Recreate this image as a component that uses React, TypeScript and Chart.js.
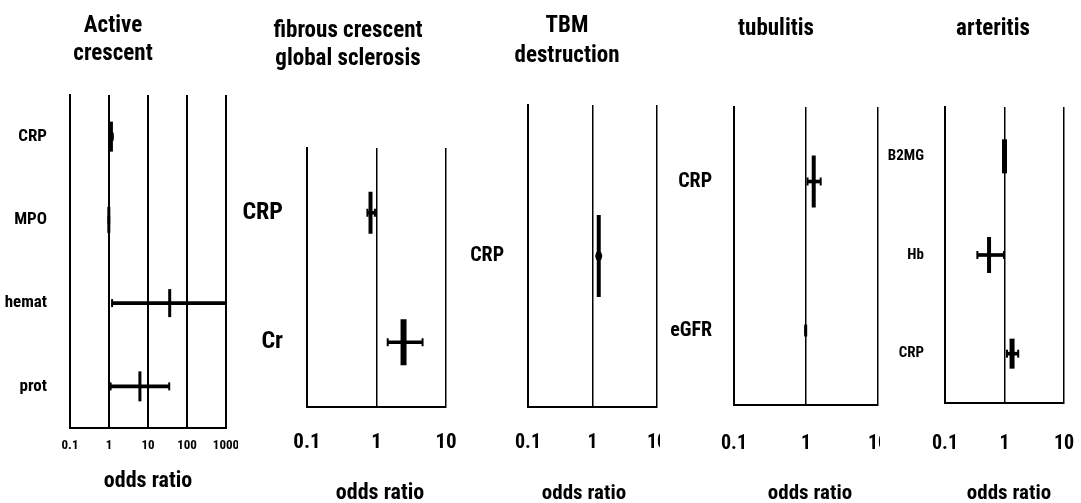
import React, { useEffect, useRef } from "react";
import { Chart, registerables } from "chart.js";
Chart.register(...registerables);

const FONT = "'Roboto Condensed', 'Open Sans Condensed', 'DejaVu Sans Condensed', sans-serif";
const H = 503;

// ---------------- data ----------------
const xAxisTitle = "odds ratio";

const activeTitle = ["Active", "crescent"];
const activeCategories = ["CRP", "MPO", "hemat", "prot"];
const activeOR = [1.12, 0.99, 36, 6.2];
const activeLow = [1.02, 0.97, 1.2, 1.1];
const activeHigh = [1.25, 1.01, 1000, 35];
const activeTicks = [0.1, 1, 10, 100, 1000];
const activeTickLabels = ["0.1", "1", "10", "100", "1000"];

const fibrousTitle = ["fibrous crescent", "global sclerosis"];
const fibrousCategories = ["CRP", "Cr"];
const fibrousOR = [0.82, 2.45];
const fibrousLow = [0.74, 1.45];
const fibrousHigh = [0.95, 4.6];

const tbmTitle = ["TBM", "destruction"];
const tbmCategories = ["CRP"];
const tbmOR = [1.25];
const tbmLow = [1.18];
const tbmHigh = [1.32];

const tubulitisTitle = ["tubulitis"];
const tubulitisCategories = ["CRP", "eGFR"];
const tubulitisOR = [1.28, 0.99];
const tubulitisLow = [1.05, 0.98];
const tubulitisHigh = [1.6, 1.0];

const arteritisTitle = ["arteritis"];
const arteritisCategories = ["B2MG", "Hb", "CRP"];
const arteritisOR = [1.0, 0.55, 1.34];
const arteritisLow = [0.99, 0.35, 1.1];
const arteritisHigh = [1.01, 0.98, 1.7];

const smallTicks = [0.1, 1, 10];
const smallTickLabels = ["0.1", "1", "10"];

// ---------------- layout / style ----------------
type Panel = {
  title: string[];
  categories: string[];
  or: number[];
  low: number[];
  high: number[];
  ticks: number[];
  tickLabels: string[];
  left: number;
  width: number;
  areaLeft: number;
  areaRight: number;
  areaTop: number;
  areaBottom: number;
  titleX: number;
  titleBaselines: number[];
  titleFont: number;
  catFont: number;
  catPad: number;
  tickFont: number;
  tickCenter: number;
  xTitleX: number;
  xTitleBaseline: number;
  xTitleFont: number;
  gridWidth: number;
  markHalf: number[];
  markWidth: number[];
  dotRadius: number[];
  ciWidth: number;
};

const PANELS: Panel[] = [
  {
    title: activeTitle, categories: activeCategories, or: activeOR, low: activeLow, high: activeHigh,
    ticks: activeTicks, tickLabels: activeTickLabels,
    left: 0, width: 238, areaLeft: 70, areaRight: 226, areaTop: 95, areaBottom: 428,
    titleX: 113, titleBaselines: [32, 60], titleFont: 23,
    catFont: 17, catPad: 15, tickFont: 13, tickCenter: 446,
    xTitleX: 148, xTitleBaseline: 487, xTitleFont: 22,
    gridWidth: 2, markHalf: [15, 13, 14, 15], markWidth: [4, 3, 3, 3], dotRadius: [2.5, 0, 0, 0], ciWidth: 3,
  },
  {
    title: fibrousTitle, categories: fibrousCategories, or: fibrousOR, low: fibrousLow, high: fibrousHigh,
    ticks: smallTicks, tickLabels: smallTickLabels,
    left: 238, width: 222, areaLeft: 307, areaRight: 446, areaTop: 148, areaBottom: 407,
    titleX: 348, titleBaselines: [37, 65], titleFont: 23,
    catFont: 24, catPad: 16, tickFont: 21, tickCenter: 443,
    xTitleX: 380, xTitleBaseline: 499, xTitleFont: 22,
    gridWidth: 1.5, markHalf: [21, 23], markWidth: [4, 6], dotRadius: [0, 0], ciWidth: 3,
  },
  {
    title: tbmTitle, categories: tbmCategories, or: tbmOR, low: tbmLow, high: tbmHigh,
    ticks: smallTicks, tickLabels: smallTickLabels,
    left: 460, width: 200, areaLeft: 528, areaRight: 657, areaTop: 105, areaBottom: 407,
    titleX: 567, titleBaselines: [32, 62], titleFont: 23,
    catFont: 20, catPad: 16, tickFont: 20, tickCenter: 443,
    xTitleX: 584, xTitleBaseline: 499, xTitleFont: 21,
    gridWidth: 1.5, markHalf: [41], markWidth: [4], dotRadius: [3.5], ciWidth: 3,
  },
  {
    title: tubulitisTitle, categories: tubulitisCategories, or: tubulitisOR, low: tubulitisLow, high: tubulitisHigh,
    ticks: smallTicks, tickLabels: smallTickLabels,
    left: 660, width: 220, areaLeft: 734, areaRight: 878, areaTop: 107, areaBottom: 405,
    titleX: 776, titleBaselines: [35], titleFont: 23,
    catFont: 20, catPad: 14, tickFont: 20, tickCenter: 444,
    xTitleX: 810, xTitleBaseline: 499, xTitleFont: 21,
    gridWidth: 1.5, markHalf: [26, 6], markWidth: [4, 3], dotRadius: [0, 0], ciWidth: 3,
  },
  {
    title: arteritisTitle, categories: arteritisCategories, or: arteritisOR, low: arteritisLow, high: arteritisHigh,
    ticks: smallTicks, tickLabels: smallTickLabels,
    left: 880, width: 201, areaLeft: 945, areaRight: 1064, areaTop: 107, areaBottom: 403,
    titleX: 993, titleBaselines: [35], titleFont: 23,
    catFont: 15, catPad: 13, tickFont: 20, tickCenter: 444,
    xTitleX: 1009, xTitleBaseline: 499, xTitleFont: 21,
    gridWidth: 1.5, markHalf: [17, 18, 15], markWidth: [5, 4, 5], dotRadius: [0, 0, 0], ciWidth: 3,
  },
];

// draws the panel titles and the "odds ratio" axis caption
const panelTextPlugin = {
  id: "panelText",
  afterDraw(chart: any, _args: any, opts: any) {
    const ctx = chart.ctx;
    ctx.save();
    ctx.fillStyle = "#000";
    ctx.textAlign = "center";
    ctx.textBaseline = "alphabetic";
    (opts.items || []).forEach((t: any) => {
      ctx.font = `bold ${t.size}px ${FONT}`;
      ctx.fillText(t.text, t.x, t.y);
    });
    ctx.restore();
  },
};

function makeConfig(p: Panel): any {
  const padRight = p.width - (p.areaRight - p.left);
  const xHeight = H - p.areaBottom;
  const yWidth = p.areaLeft - p.left;
  const tickPad = p.tickCenter - p.areaBottom - p.tickFont / 2;

  const caps = [
    ...p.categories.map((c, i) => ({ x: p.low[i], y: c })),
    ...p.categories.map((c, i) => ({ x: p.high[i], y: c })),
  ];

  const textItems = [
    ...p.title.map((t, i) => ({ text: t, x: p.titleX - p.left, y: p.titleBaselines[i], size: p.titleFont })),
    { text: xAxisTitle, x: p.xTitleX - p.left, y: p.xTitleBaseline, size: p.xTitleFont },
  ];

  return {
    type: "bar",
    plugins: [panelTextPlugin],
    data: {
      labels: p.categories,
      datasets: [
        {
          type: "bar",
          data: p.categories.map((_c, i) => [p.low[i], p.high[i]]),
          backgroundColor: "#000",
          borderWidth: 0,
          barThickness: p.ciWidth,
        },
        {
          type: "scatter",
          data: caps,
          pointStyle: "line",
          pointRotation: 90,
          pointRadius: 4,
          pointBorderWidth: 2,
          pointBorderColor: "#000",
          pointBackgroundColor: "#000",
        },
        {
          type: "scatter",
          data: p.categories.map((c, i) => ({ x: p.or[i], y: c })),
          pointStyle: "line",
          pointRotation: 90,
          pointRadius: p.markHalf,
          pointBorderWidth: p.markWidth,
          pointBorderColor: "#000",
          pointBackgroundColor: "#000",
        },
        {
          type: "scatter",
          data: p.categories.map((c, i) => ({ x: p.or[i], y: c })),
          pointStyle: "circle",
          pointRadius: p.dotRadius,
          pointBorderWidth: 0,
          pointBackgroundColor: "#000",
        },
      ],
    },
    options: {
      indexAxis: "y",
      responsive: false,
      animation: false,
      devicePixelRatio: 1,
      events: [],
      layout: { autoPadding: false, padding: { left: 0, right: padRight, top: p.areaTop, bottom: 0 } },
      plugins: {
        legend: { display: false },
        tooltip: { enabled: false },
        title: { display: false },
        panelText: { items: textItems },
      },
      scales: {
        x: {
          type: "logarithmic",
          min: p.ticks[0],
          max: p.ticks[p.ticks.length - 1],
          offset: false,
          position: "bottom",
          grid: { display: true, color: "#000", lineWidth: p.gridWidth, drawTicks: false, offset: false },
          border: { display: true, color: "#000", width: 2 },
          ticks: {
            autoSkip: false,
            maxRotation: 0,
            minRotation: 0,
            padding: tickPad,
            color: "#000",
            font: { family: FONT, size: p.tickFont, weight: "bold", lineHeight: 1 },
            callback: (_v: any, i: number) => p.tickLabels[i],
          },
          title: { display: false },
          afterBuildTicks: (s: any) => {
            s.ticks = p.ticks.map((v) => ({ value: v }));
          },
          afterFit: (s: any) => {
            s.height = xHeight;
            s.paddingLeft = 0;
            s.paddingRight = 0;
          },
        },
        y: {
          type: "category",
          offset: true,
          grid: { display: false, offset: true },
          border: { display: true, color: "#000", width: 2 },
          ticks: {
            padding: p.catPad,
            color: "#000",
            font: { family: FONT, size: p.catFont, weight: "bold" },
          },
          afterFit: (s: any) => {
            s.width = yWidth;
            s.paddingTop = 0;
            s.paddingBottom = 0;
          },
        },
      },
    },
  };
}

function PanelChart({ p }: { p: Panel }) {
  const ref = useRef<HTMLCanvasElement>(null);
  useEffect(() => {
    const chart = new Chart(ref.current as HTMLCanvasElement, makeConfig(p));
    return () => chart.destroy();
  }, [p]);
  return (
    <canvas
      ref={ref}
      width={p.width}
      height={H}
      style={{ position: "absolute", left: p.left, top: 0, width: p.width, height: H }}
    />
  );
}

export default function App() {
  return (
    <div
      style={{
        position: "absolute",
        left: 0,
        top: 0,
        width: 1081,
        height: H,
        background: "#fff",
        overflow: "hidden",
      }}
    >
      {PANELS.map((p, i) => (
        <PanelChart key={i} p={p} />
      ))}
    </div>
  );
}
